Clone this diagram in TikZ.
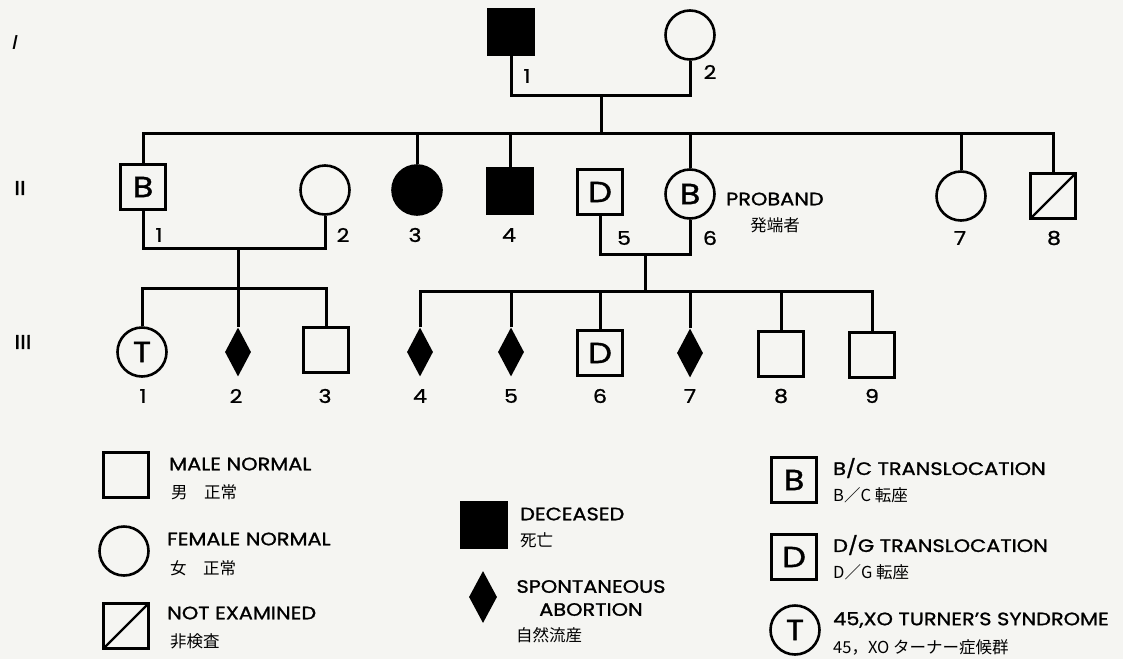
\documentclass[tikz,border=0pt]{standalone}
\usepackage{fontspec}
\setmainfont{Poppins}[FakeStretch=1.16, UprightFeatures={FakeBold=1.2}]
\newfontfamily\jp{Noto Sans CJK JP}
\usepackage{tikz}
\usetikzlibrary{positioning,shapes.geometric}
\definecolor{papel}{RGB}{245,245,242}
\tikzset{
    simbolo/.style={
        draw,
        line width=2.6pt,
        inner sep=0pt,
        font=\fontsize{29}{29}\selectfont
    },
    homem/.style={simbolo, rectangle, minimum size=45pt},
    mulher/.style={simbolo, circle, minimum size=49pt},
    falecido/.style={homem, fill=black},
    afetada/.style={mulher, fill=black},
    aborto/.style={diamond, fill=black, inner sep=0pt, minimum width=26pt, minimum height=49pt},
    naoexam/.style={
        homem,
        path picture={\draw[line width=2.4pt] (path picture bounding box.south west) -- (path picture bounding box.north east);}
    },
    linha/.style={line width=3pt},
    numero/.style={inner sep=0pt, font=\fontsize{19}{19}\selectfont},
    geracao/.style={inner sep=0pt, font=\fontsize{20}{20}\selectfont},
    legenda/.style={anchor=west, inner sep=0pt, font=\fontsize{18}{23}\selectfont},
    legendajp/.style={anchor=west, inner sep=0pt, font=\jp\fontsize{16.5}{16.5}\selectfont}
}

\begin{document}
\begin{tikzpicture}[x=1pt, y=-1pt]
    \fill[papel] (0,0) rectangle (1123,659);
    \useasboundingbox (0,0) rectangle (1123,659);

    \node[geracao] (g1) at (15,43) {\itshape I};
    \node[geracao] (g2) at (20,188) {II};
    \node[geracao] (g3) at (23,342) {III};

    % geracao I
    \node[falecido] (i1) at (511,32) {};
    \node[mulher] (i2) at (690,35) {};
    \coordinate (casal1) at (601,95);
    \coordinate (irmaos1) at (601,133);
    \draw[linha] (i1.south) |- (casal1) -| (i2.south);
    \draw[linha] (casal1) -- (irmaos1);

    % geracao II
    \node[homem] (ii1) at (143,187) {B};
    \node[mulher] (ii2) at (325,190) {};
    \node[afetada] (ii3) at (417,190) {};
    \node[falecido] (ii4) at (510,191) {};
    \node[homem] (ii5) at (600,192) {D};
    \node[mulher] (ii6) at (690,194) {B};
    \node[mulher] (ii7) at (961,196) {};
    \node[naoexam] (ii8) at (1053,196) {};
    \node[legenda] (proband) at (726,199) {PROBAND};
    \node[legendajp, anchor=center] (probandjp) at (775,225) {発端者};

    \draw[linha] (ii1.north) |- (irmaos1) -| (ii8.north);
    \foreach \n in {ii3,ii4,ii6,ii7}
        \draw[linha] (\n.north) -- (\n.north |- irmaos1);

    \coordinate (casal2) at (238,248);
    \coordinate (irmaos2) at (238,288);
    \draw[linha] (ii1.south) |- (casal2) -| (ii2.south);
    \draw[linha] (casal2) -- (irmaos2);

    \coordinate (casal3) at (645,254);
    \coordinate (irmaos3) at (645,291);
    \draw[linha] (ii5.south) |- (casal3) -| (ii6.south);
    \draw[linha] (casal3) -- (irmaos3);

    % geracao III
    \node[mulher] (iii1) at (142,352) {T};
    \node[aborto] (iii2) at (238,352) {};
    \node[homem] (iii3) at (326,350) {};
    \node[aborto] (iii4) at (420,352) {};
    \node[aborto] (iii5) at (511,352) {};
    \node[homem] (iii6) at (600,353) {D};
    \node[aborto] (iii7) at (690,353) {};
    \node[homem] (iii8) at (781,354) {};
    \node[homem] (iii9) at (872,355) {};

    \draw[linha] (iii1.north) |- (irmaos2) -| (iii3.north);
    \draw[linha] (irmaos2) -- (iii2.north);
    \draw[linha] (iii4.north) |- (irmaos3) -| (iii9.north);
    \foreach \n in {iii5,iii6,iii7,iii8}
        \draw[linha] (\n.north) -- (\n.north |- irmaos3);

    % numeros
    \node[numero] (n-i1) at (527,76) {1};
    \node[numero] (n-i2) at (710,72) {2};
    \foreach \x/\y/\t in {159/235/1, 343/235/2, 415/235/3, 509/235/4, 624/238/5, 710/238/6, 960/238/7, 1054/238/8}
        \node[numero] (n-ii\t) at (\x,\y) {\t};
    \foreach \x/\t in {143/1, 236/2, 325/3, 420/4, 511/5, 600/6, 690/7, 781/8, 872/9}
        \node[numero] (n-iii\t) at (\x,396) {\t};

    % legenda
    \node[homem] (lg-homem) at (126,475) {};
    \node[legenda] (tx-homem) at (169,464) {MALE NORMAL};
    \node[legendajp] (jp-homem) at (171,492) {男　正常};

    \node[mulher] (lg-mulher) at (124,551) {};
    \node[legenda] (tx-mulher) at (167,539) {FEMALE NORMAL};
    \node[legendajp] (jp-mulher) at (170,568) {女　正常};

    \node[naoexam] (lg-naoexam) at (126,626) {};
    \node[legenda] (tx-naoexam) at (167,613) {NOT EXAMINED};
    \node[legendajp] (jp-naoexam) at (170,641) {非検査};

    \node[falecido] (lg-falecido) at (484,525) {};
    \node[legenda] (tx-falecido) at (520,514) {DECEASED};
    \node[legendajp] (jp-falecido) at (520,540) {死亡};

    \node[aborto, minimum width=28pt, minimum height=52pt] (lg-aborto) at (483,597) {};
    \node[legenda, anchor=center, align=center] (tx-aborto) at (591,598) {SPONTANEOUS\\ABORTION};
    \node[legendajp] (jp-aborto) at (516,635) {自然流産};

    \node[homem] (lg-bc) at (794,480) {B};
    \node[legenda] (tx-bc) at (833,468) {B/C TRANSLOCATION};
    \node[legendajp] (jp-bc) at (833,495) {B／C 転座};

    \node[homem] (lg-dg) at (794,557) {D};
    \node[legenda] (tx-dg) at (833,545) {D/G TRANSLOCATION};
    \node[legendajp] (jp-dg) at (833,572) {D／G 転座};

    \node[mulher] (lg-t) at (795,630) {T};
    \node[legenda] (tx-t) at (833,620) {45,XO TURNER'S SYNDROME};
    \node[legendajp] (jp-t) at (833,647) {45，XO ターナー症候群};
\end{tikzpicture}
\end{document}
